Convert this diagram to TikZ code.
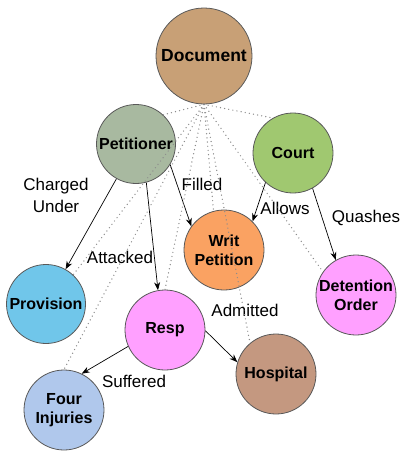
\documentclass[tikz,border=0pt]{standalone}
\usepackage{fontspec}
\setmainfont{Liberation Sans}
\usetikzlibrary{arrows.meta}

\definecolor{docbrown}{RGB}{200,160,118}
\definecolor{petgreen}{RGB}{168,185,160}
\definecolor{courtgreen}{RGB}{160,200,112}
\definecolor{writorange}{RGB}{250,162,98}
\definecolor{provblue}{RGB}{112,198,234}
\definecolor{partypink}{RGB}{255,160,255}
\definecolor{hospbrown}{RGB}{196,152,128}
\definecolor{injblue}{RGB}{176,200,236}

\begin{document}
\begin{tikzpicture}[x=1pt, y=-1pt,
  every node/.style={font=\fontsize{17}{22}\selectfont},
  ent/.style={circle, draw=black!65, line width=0.8pt, minimum size=80pt, inner sep=0pt,
    align=center, font=\fontsize{16}{19}\selectfont\bfseries},
  rel/.style={-{Stealth[length=8pt,width=6pt]}, line width=0.7pt},
  link/.style={draw=black!45, line width=1.4pt, dash pattern=on 0pt off 4.2pt, line cap=round},
  lbl/.style={inner sep=0pt, align=center}]
  \useasboundingbox (0,0) rectangle (407,458);
  % Entities
  \node[ent, fill=docbrown, minimum size=96pt, font=\fontsize{17.5}{20}\selectfont\bfseries] (doc) at (204,56) {Document};
  \node[ent, fill=petgreen, minimum size=79pt] (pet) at (136,144) {Petitioner};
  \node[ent, fill=courtgreen] (court) at (293,153) {Court};
  \node[ent, fill=writorange] (writ) at (224,250) {Writ\\Petition};
  \node[ent, fill=provblue, minimum size=79pt] (prov) at (46,304) {Provision};
  \node[ent, fill=partypink] (det) at (356,295) {Detention\\Order};
  \node[ent, fill=partypink] (resp) at (165,330) {Resp};
  \node[ent, fill=hospbrown] (hosp) at (276,374) {Hospital};
  \node[ent, fill=injblue] (inj) at (64,410) {Four\\Injuries};
  % Relations between entities
  \draw[rel] (pet) -- (prov);
  \draw[rel] (pet.-75) -- (resp.100);
  \draw[rel] (pet.-31) -- (writ.144);
  \draw[rel] (court.-133) -- (writ.45);
  \draw[rel] (court.-61) -- (det.120);
  \draw[rel] (resp.-156) -- (inj.64);
  \draw[rel] (resp.-1) -- (hosp.163);
  % Relation labels
  \node[lbl] (chg) at (56,195) {Charged\\Under};
  \node[lbl] (fil) at (202,184) {Filled};
  \node[lbl] (alw) at (285,208) {Allows};
  \node[lbl] (qsh) at (366,218) {Quashes};
  \node[lbl] (atk) at (120,257) {Attacked};
  \node[lbl] (adm) at (245,310) {Admitted};
  \node[lbl] (suf) at (134,381) {Suffered};
  % Document links (dotted, from the bottom of the document)
  \draw[link] (doc.south) -- (pet.47);
  \draw[link] (doc.south) -- (court.120);
  \draw[link] (doc.south) -- (prov.47);
  \draw[link] (doc.south) -- (inj.90);
  \draw[link] (doc.south) -- (resp.90);
  \draw[link] (doc.south) -- (writ.105);
  \draw[link] (doc.south) -- (hosp.130);
  \draw[link] (doc.south) -- (det.145);
\end{tikzpicture}
\end{document}
